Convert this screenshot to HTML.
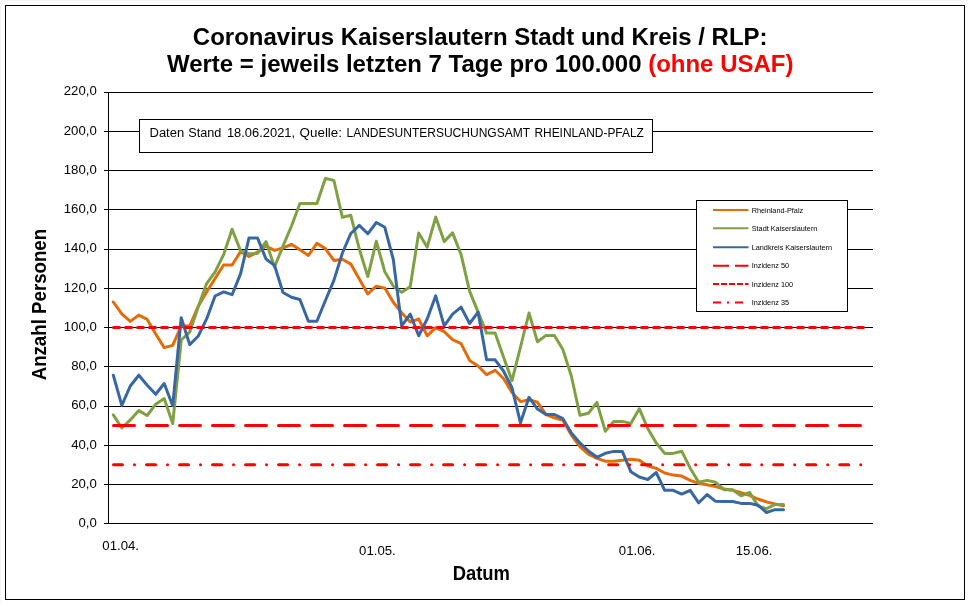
<!DOCTYPE html>
<html lang="de">
<head>
<meta charset="utf-8">
<title>Coronavirus Kaiserslautern Stadt und Kreis / RLP</title>
<style>
html,body{margin:0;padding:0;background:#fff;}
body{width:968px;height:604px;overflow:hidden;position:relative;font-family:"Liberation Sans",sans-serif;}
svg{position:absolute;left:0;top:0;display:block;}
svg text{font-family:"Liberation Sans",sans-serif;}
.title{font-size:24px;font-weight:bold;fill:#000;}
.axt{font-size:18.6px;font-weight:bold;fill:#000;}
.yl text,.xl text{font-size:13.2px;fill:#000;}
.grid line,.ticks line{stroke:#000;stroke-width:1;shape-rendering:crispEdges;}
.ser{fill:none;stroke-width:3;stroke-linejoin:round;stroke-linecap:round;}
.leg text{font-size:7.3px;fill:#000;}
.tb{font-size:12.5px;fill:#000;}
</style>
</head>
<body>
<svg width="968" height="604" viewBox="0 0 968 604">
<rect x="0" y="0" width="968" height="604" fill="#ffffff"/>
<rect x="0" y="0" width="968" height="1" fill="#f5f5f5"/>
<rect x="0" y="0" width="1" height="604" fill="#f5f5f5"/>
<rect x="5.5" y="5.5" width="959" height="594" fill="#fff" stroke="#000" stroke-width="1" shape-rendering="crispEdges"/>

<text class="title" transform="translate(480.2,44.6) scale(1,0.965)" text-anchor="middle">Coronavirus Kaiserslautern Stadt und Kreis / RLP:</text>
<text class="title" transform="translate(480.2,71.7) scale(1,0.965)" text-anchor="middle">Werte = jeweils letzten 7 Tage pro 100.000 <tspan fill="#ff0000">(ohne USAF)</tspan></text>

<g class="grid">
<line x1="108.5" y1="523.5" x2="873.0" y2="523.5"/>
<line x1="108.5" y1="484.5" x2="873.0" y2="484.5"/>
<line x1="108.5" y1="445.5" x2="873.0" y2="445.5"/>
<line x1="108.5" y1="406.5" x2="873.0" y2="406.5"/>
<line x1="108.5" y1="366.5" x2="873.0" y2="366.5"/>
<line x1="108.5" y1="327.5" x2="873.0" y2="327.5"/>
<line x1="108.5" y1="288.5" x2="873.0" y2="288.5"/>
<line x1="108.5" y1="249.5" x2="873.0" y2="249.5"/>
<line x1="108.5" y1="209.5" x2="873.0" y2="209.5"/>
<line x1="108.5" y1="170.5" x2="873.0" y2="170.5"/>
<line x1="108.5" y1="131.5" x2="873.0" y2="131.5"/>
<line x1="108.5" y1="92.5" x2="873.0" y2="92.5"/>
<line x1="108.5" y1="92" x2="108.5" y2="524"/>
</g>
<g class="ticks">
<line x1="104" y1="523.5" x2="108.5" y2="523.5"/>
<line x1="104" y1="484.5" x2="108.5" y2="484.5"/>
<line x1="104" y1="445.5" x2="108.5" y2="445.5"/>
<line x1="104" y1="406.5" x2="108.5" y2="406.5"/>
<line x1="104" y1="366.5" x2="108.5" y2="366.5"/>
<line x1="104" y1="327.5" x2="108.5" y2="327.5"/>
<line x1="104" y1="288.5" x2="108.5" y2="288.5"/>
<line x1="104" y1="249.5" x2="108.5" y2="249.5"/>
<line x1="104" y1="209.5" x2="108.5" y2="209.5"/>
<line x1="104" y1="170.5" x2="108.5" y2="170.5"/>
<line x1="104" y1="131.5" x2="108.5" y2="131.5"/>
<line x1="104" y1="92.5" x2="108.5" y2="92.5"/>
</g>
<g class="yl">
<text x="96.8" y="527.2" text-anchor="end">0,0</text>
<text x="96.8" y="487.9" text-anchor="end">20,0</text>
<text x="96.8" y="448.7" text-anchor="end">40,0</text>
<text x="96.8" y="409.4" text-anchor="end">60,0</text>
<text x="96.8" y="370.2" text-anchor="end">80,0</text>
<text x="96.8" y="330.9" text-anchor="end">100,0</text>
<text x="96.8" y="291.7" text-anchor="end">120,0</text>
<text x="96.8" y="252.4" text-anchor="end">140,0</text>
<text x="96.8" y="213.2" text-anchor="end">160,0</text>
<text x="96.8" y="173.9" text-anchor="end">180,0</text>
<text x="96.8" y="134.7" text-anchor="end">200,0</text>
<text x="96.8" y="95.4" text-anchor="end">220,0</text>
</g>
<g class="xl">
<text x="120.7" y="550.2" text-anchor="middle">01.04.</text>
<text x="377.4" y="554.8" text-anchor="middle">01.05.</text>
<text x="637.2" y="554.8" text-anchor="middle">01.06.</text>
<text x="754.1" y="554.8" text-anchor="middle">15.06.</text>
</g>
<text class="axt" transform="translate(481.3,579.9) scale(0.99,1.05)" text-anchor="middle">Datum</text>
<text class="axt" transform="translate(45.9,304.6) rotate(-90) scale(1.005,1.10)" text-anchor="middle">Anzahl Personen</text>

<polyline class="ser" stroke="#E36C09" points="113.3,302.0 121.8,313.9 130.3,321.4 138.8,315.1 147.2,319.4 155.7,334.0 164.2,347.6 172.7,345.4 181.2,326.0 189.7,326.0 198.1,306.6 206.6,291.9 215.1,278.5 223.6,265.0 232.1,265.0 240.6,251.6 249.0,256.5 257.5,252.2 266.0,246.0 274.5,250.4 283.0,248.0 291.5,244.3 299.9,249.8 308.4,255.4 316.9,243.4 325.4,248.6 333.9,260.4 342.4,259.2 350.8,264.1 359.3,279.0 367.8,293.9 376.3,286.1 384.8,288.1 393.3,302.3 401.7,312.8 410.2,322.1 418.7,319.0 427.2,335.8 435.7,327.7 444.2,331.6 452.6,339.7 461.1,343.6 469.6,360.4 478.1,366.0 486.6,374.7 495.1,370.3 503.5,378.5 512.0,392.5 520.5,401.6 529.0,399.8 537.5,402.3 546.0,414.7 554.4,417.8 562.9,420.3 571.4,435.0 579.9,446.6 588.4,454.1 596.9,458.4 605.3,461.2 613.8,461.3 622.3,460.3 630.8,459.2 639.3,460.3 647.8,465.9 656.2,468.4 664.7,473.0 673.2,475.1 681.7,476.1 690.2,480.4 698.7,483.3 707.1,484.8 715.6,486.6 724.1,489.1 732.6,490.3 741.1,492.8 749.6,495.3 758.0,499.0 766.5,501.9 775.0,504.0 783.5,505.8"/>
<polyline class="ser" stroke="#80A143" points="113.3,414.9 121.8,428.0 130.3,419.9 138.8,410.6 147.2,415.5 155.7,404.2 164.2,398.6 172.7,423.6 181.2,340.0 189.7,332.2 198.1,307.2 206.6,283.6 215.1,272.0 223.6,254.7 232.1,229.2 240.6,250.9 249.0,253.7 257.5,253.4 266.0,241.6 274.5,267.0 283.0,246.1 291.5,226.0 299.9,203.5 308.4,203.5 316.9,203.5 325.4,178.4 333.9,180.5 342.4,217.3 350.8,215.3 359.3,249.0 367.8,276.6 376.3,241.3 384.8,271.7 393.3,286.1 401.7,292.3 410.2,286.7 418.7,232.9 427.2,247.2 435.7,217.1 444.2,241.6 452.6,232.9 461.1,254.6 469.6,291.1 478.1,312.1 486.6,333.1 495.1,333.1 503.5,357.0 512.0,380.7 520.5,347.0 529.0,313.0 537.5,341.8 546.0,335.4 554.4,335.4 562.9,349.6 571.4,376.2 579.9,415.3 588.4,413.2 596.9,402.4 605.3,431.3 613.8,421.4 622.3,421.4 630.8,423.4 639.3,408.7 647.8,428.6 656.2,443.0 664.7,453.4 673.2,453.4 681.7,451.2 690.2,468.2 698.7,482.3 707.1,480.4 715.6,482.3 724.1,489.7 732.6,489.7 741.1,495.9 749.6,492.3 758.0,505.9 766.5,508.7 775.0,504.5 783.5,504.5"/>
<polyline class="ser" stroke="#3867A2" points="113.3,375.2 121.8,405.4 130.3,386.0 138.8,375.2 147.2,385.3 155.7,394.3 164.2,383.5 172.7,405.7 181.2,317.7 189.7,344.6 198.1,336.3 206.6,318.9 215.1,296.0 223.6,291.9 232.1,294.7 240.6,273.6 249.0,237.9 257.5,237.9 266.0,259.0 274.5,265.4 283.0,292.5 291.5,297.2 299.9,299.5 308.4,321.2 316.9,321.2 325.4,300.5 333.9,280.4 342.4,253.0 350.8,233.5 359.3,225.4 367.8,233.8 376.3,222.5 384.8,227.3 393.3,259.5 401.7,325.9 410.2,314.1 418.7,335.8 427.2,319.0 435.7,295.8 444.2,325.9 452.6,314.1 461.1,307.2 469.6,323.5 478.1,312.2 486.6,359.8 495.1,359.8 503.5,371.0 512.0,387.8 520.5,422.8 529.0,397.3 537.5,409.1 546.0,414.5 554.4,414.5 562.9,418.7 571.4,433.0 579.9,442.9 588.4,451.0 596.9,457.3 605.3,453.3 613.8,451.4 622.3,451.4 630.8,471.7 639.3,477.0 647.8,479.5 656.2,472.5 664.7,490.3 673.2,490.3 681.7,494.1 690.2,490.3 698.7,502.8 707.1,494.5 715.6,501.3 724.1,501.5 732.6,501.5 741.1,503.4 749.6,503.4 758.0,505.2 766.5,512.5 775.0,509.7 783.5,509.7"/>
<g fill="none" stroke="#ff0000" stroke-width="3" stroke-linecap="round">
<line x1="113.5" y1="425.5" x2="868.3" y2="425.5" stroke-dasharray="21 12"/>
<line x1="113.5" y1="327.6" x2="868.3" y2="327.6" stroke-dasharray="6 6"/>
<line x1="113.5" y1="464.7" x2="868.3" y2="464.7" stroke-dasharray="9 12 0.01 12"/>
</g>

<g class="tbox">
<rect x="139.5" y="119.5" width="513" height="33" fill="#fff" stroke="#000" stroke-width="1" shape-rendering="crispEdges"/>
<text class="tb" y="136.8"><tspan x="149.5" textLength="34.7" lengthAdjust="spacingAndGlyphs">Daten</tspan> <tspan x="188.3" textLength="33.1" lengthAdjust="spacingAndGlyphs">Stand</tspan> <tspan x="226.9" textLength="68.2" lengthAdjust="spacingAndGlyphs">18.06.2021,</tspan> <tspan x="299.6" textLength="42.4" lengthAdjust="spacingAndGlyphs">Quelle:</tspan> <tspan x="346.5" textLength="183.3" lengthAdjust="spacingAndGlyphs">LANDESUNTERSUCHUNGSAMT</tspan> <tspan x="534.4" textLength="109.5" lengthAdjust="spacingAndGlyphs">RHEINLAND-PFALZ</tspan></text>
</g>

<g class="leg">
<rect x="696.5" y="200.5" width="151" height="111" fill="#fff" stroke="#000" stroke-width="1" shape-rendering="crispEdges"/>
<g fill="none" stroke-width="2">
<line x1="713" y1="210" x2="748.5" y2="210" stroke="#E36C09"/>
<line x1="713" y1="228.3" x2="748.5" y2="228.3" stroke="#80A143"/>
<line x1="713" y1="247.3" x2="748.5" y2="247.3" stroke="#3867A2"/>
<line x1="713" y1="265.8" x2="748.5" y2="265.8" stroke="#ff0000" stroke-dasharray="16 6"/>
<line x1="713" y1="284.1" x2="748.5" y2="284.1" stroke="#ff0000" stroke-dasharray="6 2"/>
<line x1="713" y1="302.6" x2="748.5" y2="302.6" stroke="#ff0000" stroke-dasharray="8 6 2 6"/>
</g>
<text x="751.7" y="213.0">Rheinland-Pfalz</text>
<text x="751.7" y="231.0">Stadt Kaiserslautern</text>
<text x="751.7" y="250.0">Landkreis Kaiserslautern</text>
<text x="751.7" y="267.9">Inzidenz 50</text>
<text x="751.7" y="287.0">Inzidenz 100</text>
<text x="751.7" y="305.2">Inzidenz 35</text>
</g>
</svg>
</body>
</html>
